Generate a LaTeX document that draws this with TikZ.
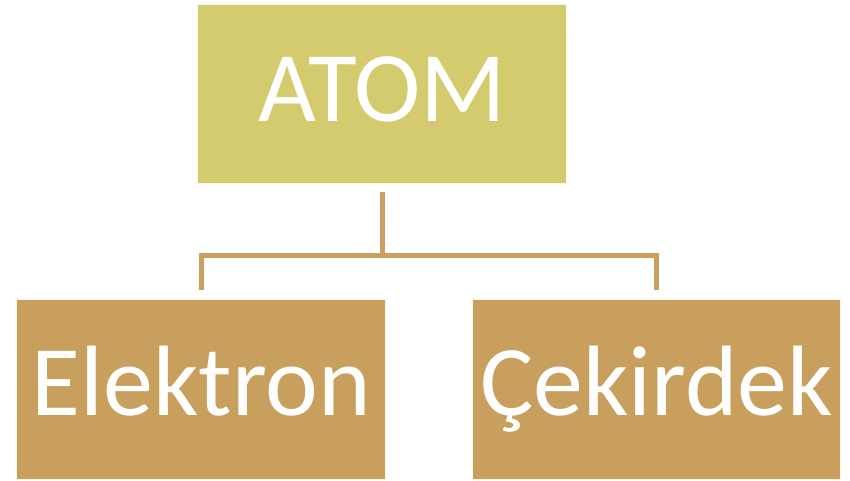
\documentclass[tikz,border=0pt]{standalone}
\usepackage{fontspec}
\setmainfont{Carlito}
\definecolor{atomfill}{HTML}{D3CB6D}
\definecolor{partfill}{HTML}{C89F5D}
\definecolor{linkcol}{HTML}{C9A05E}
\begin{document}
\begin{tikzpicture}[x=1pt,y=-1pt]
            \tikzstyle{every node}+=[inner sep=0pt]
            \tikzstyle{box}=[rectangle, draw=white!85!atomfill, line width=0.8pt, text=white, text depth=0pt, font=\fontsize{100}{110}\selectfont]
            \tikzstyle{link}=[draw=linkcol, line width=5pt]
            \useasboundingbox (0,0) rectangle (850,481);
            \node [box, fill=atomfill, text height=57pt, minimum width=369, minimum height=179] (atom) at (382,93.5) {ATOM};
            \node [box, fill=partfill, text height=52pt, minimum width=369, minimum height=180] (elektron) at (201.2,389) {Elektron};
            \node [box, fill=partfill, text height=52pt, minimum width=368, minimum height=180] (cekirdek) at (656.5,389) {Çekirdek};
            \coordinate (bus) at (382,255);
            \draw [link, shorten <=9pt] (atom.south) -- (bus);
            \draw [link, shorten >=9pt] (bus) -| (elektron.north);
            \draw [link, shorten >=9pt] (bus) -| (cekirdek.north);
        \end{tikzpicture}
\end{document}
